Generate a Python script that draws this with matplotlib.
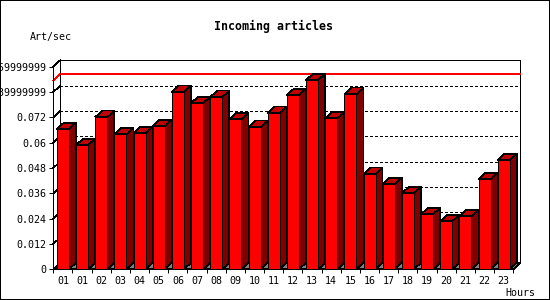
import matplotlib
matplotlib.use("Agg")
import matplotlib.pyplot as plt
from matplotlib.patches import Polygon, Rectangle

hours = ["01", "01", "02", "03", "04", "05", "06", "07", "08", "09", "10", "11",
         "12", "13", "14", "15", "16", "17", "18", "19", "20", "21", "22", "23"]
values = [0.0664, 0.0588, 0.0721, 0.0640, 0.0645, 0.0678, 0.0840, 0.0787,
          0.0816, 0.0711, 0.0674, 0.0740, 0.0825, 0.0896, 0.0716, 0.0830,
          0.0451, 0.0403, 0.0360, 0.0261, 0.0228, 0.0251, 0.0427, 0.0517]
yticks = [0, 0.012, 0.024, 0.036, 0.048, 0.06, 0.072, 0.084, 0.096]
ytick_labels = ["0", "0.012", "0.024", "0.036", "0.048", "0.06", "0.072",
                "0.0839999999", "0.0959999999"]
title = "Incoming articles"
ylabel = "Art/sec"
xlabel = "Hours"

W, H = 550, 300
fig = plt.figure(figsize=(5.5, 3), dpi=100)
fig.patch.set_facecolor("white")

# front plotting rectangle in pixels
L, R, T, B = 53.3, 513.3, 66.7, 269.3
ax = fig.add_axes([L / W, 1 - B / H, (R - L) / W, (B - T) / H])
ax.set_facecolor("none")
n = len(values)
ax.set_xlim(-0.5, n - 0.5)
ax.set_ylim(0, yticks[-1])

px_x = (R - L) / n              # px per category
px_y = (B - T) / yticks[-1]     # px per unit
DX = 7 / px_x
DY = 6.5 / px_y

mono = "DejaVu Sans Mono"
lw = 0.5
x0, x1 = -0.5, n - 0.5
ymax = yticks[-1]
AA = False

# back wall
wall = Polygon([(x0 + DX, DY), (x1 + DX, DY), (x1 + DX, ymax + DY), (x0 + DX, ymax + DY)],
               closed=True, facecolor="white", edgecolor="black", lw=lw, zorder=1,
               clip_on=False, antialiased=AA)
ax.add_patch(wall)
# top-left diagonal
ax.plot([x0, x0 + DX], [ymax, ymax + DY], color="black", lw=lw, zorder=1.1,
        clip_on=False, antialiased=AA)
# floor
floor = Polygon([(x0, 0), (x1, 0), (x1 + DX, DY), (x0 + DX, DY)], closed=True,
                facecolor="#808080", edgecolor="black", lw=lw, zorder=1.2,
                clip_on=False, antialiased=AA)
ax.add_patch(floor)

# dotted gridlines on the back wall
for yv in yticks[1:-1]:
    ax.plot([x0 + DX, x1 + DX], [yv + DY, yv + DY], color="black", lw=lw,
            linestyle=(0, (3, 3)), zorder=1.3, clip_on=False, antialiased=AA)
    ax.plot([x0, x0 + DX], [yv, yv + DY], color="black", lw=lw,
            zorder=1.3, clip_on=False, antialiased=AA)

# red line at maximum
vmax = max(values)
ax.plot([x0, x0 + DX, x1 + DX], [vmax, vmax + DY, vmax + DY], color="#ff0000",
        lw=lw, zorder=1.4, clip_on=False, antialiased=AA)

# bars
bw = 12 / px_x
for i, v in enumerate(values):
    xl, xr = i - bw / 2, i + bw / 2
    side = Polygon([(xr, 0), (xr + DX, DY), (xr + DX, v + DY), (xr, v)], closed=True,
                   facecolor="#800000", edgecolor="black", lw=lw, zorder=3 + i * 0.01,
                   clip_on=False, antialiased=AA)
    top = Polygon([(xl, v), (xr, v), (xr + DX, v + DY), (xl + DX, v + DY)], closed=True,
                  facecolor="#c00000", edgecolor="black", lw=lw, zorder=3 + i * 0.01,
                  clip_on=False, antialiased=AA)
    ax.add_patch(side)
    ax.add_patch(top)
ax.bar(range(n), values, width=bw, color="#ff0000", edgecolor="black", lw=lw,
       zorder=3.5, clip_on=False, antialiased=AA)

# axes/spines
for s in ["top", "right"]:
    ax.spines[s].set_visible(False)
for s in ["left", "bottom"]:
    ax.spines[s].set_linewidth(lw)
    ax.spines[s].set_zorder(4)
    ax.spines[s].set_antialiased(AA)

ax.set_yticks(yticks)
ax.set_yticklabels(ytick_labels, fontfamily=mono, fontsize=7.2)
ax.tick_params(axis="y", direction="out", length=2.9, width=0.72, pad=2.2)

ax.set_xticks(range(n))
ax.set_xticklabels(hours, fontfamily=mono, fontsize=7.2)
ax.set_xticks([k - 0.5 for k in range(n + 1)], minor=True)
ax.tick_params(axis="x", which="major", length=0, pad=4.5)
ax.tick_params(axis="x", which="minor", direction="out", length=2.9, width=0.72)

fig.text(274 / W, 1 - 26.7 / H, title, ha="center", va="center",
         fontfamily=mono, fontweight="bold", fontsize=8.4)
fig.text(30 / W, 1 - 36.7 / H, ylabel, ha="left", va="center",
         fontfamily=mono, fontsize=7.2)
fig.text(505 / W, 1 - 292.5 / H, xlabel, ha="left", va="center",
         fontfamily=mono, fontsize=7.2)

fig.patches.append(Rectangle((0, 0), 1, 1, transform=fig.transFigure, fill=False,
                             edgecolor="black", lw=1.44))

fig.savefig("out.png", dpi=100)
